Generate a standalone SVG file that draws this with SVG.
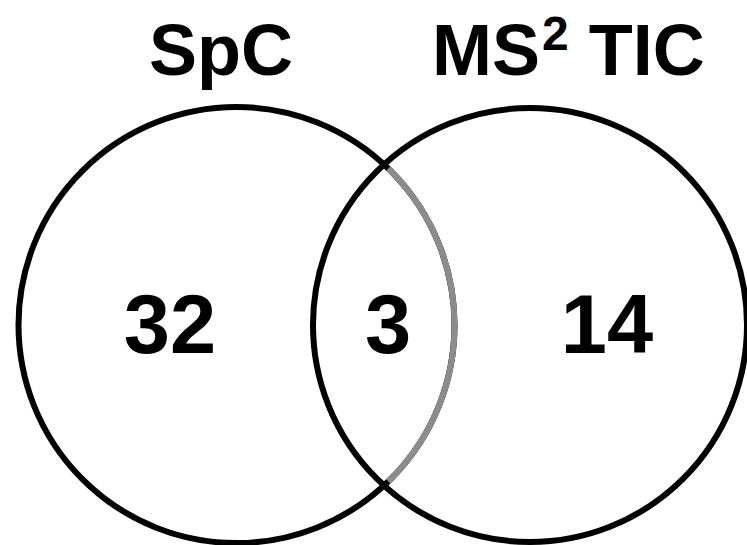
<svg xmlns="http://www.w3.org/2000/svg" width="747" height="545" viewBox="0 0 747 545">
  <style>
    .set { fill: none; stroke: #000; stroke-width: 6; }
    .shared-edge { fill: none; stroke: #8c8c8c; stroke-width: 6; }
    .title { font-family: "Liberation Sans", Arial, sans-serif; font-weight: bold; font-size: 72px; fill: #000; }
    .count { font-family: "Liberation Sans", Arial, sans-serif; font-weight: bold; font-size: 83px; fill: #000; text-anchor: middle; }
  </style>
  <rect width="747" height="545" fill="#fff"/>

  <!-- Set circles -->
  <g id="set-spc">
    <circle class="set" cx="236.5" cy="325" r="218"/>
  </g>
  <g id="set-ms2tic">
    <circle class="set" cx="530" cy="325" r="217"/>
  </g>
  <!-- Right-hand arc of the SpC circle inside the overlap, drawn in grey -->
  <g id="overlap-edge">
    <path class="shared-edge" d="M 388.3 168.5 A 218 218 0 0 1 388.3 481.5"/>
  </g>

  <!-- Titles -->
  <g id="title-spc">
    <text class="title" x="221" y="75" text-anchor="middle">SpC</text>
  </g>
  <g id="title-ms2tic">
    <text class="title" x="432" y="75">MS<tspan font-size="48" dx="2" dy="-25">2</tspan><tspan dy="25"> TIC</tspan></text>
  </g>

  <!-- Counts -->
  <g id="count-spc-only">
    <text class="count" x="170" y="353">32</text>
  </g>
  <g id="count-both">
    <text class="count" x="388" y="353">3</text>
  </g>
  <g id="count-ms2tic-only">
    <text class="count" x="607" y="353">14</text>
  </g>
</svg>
